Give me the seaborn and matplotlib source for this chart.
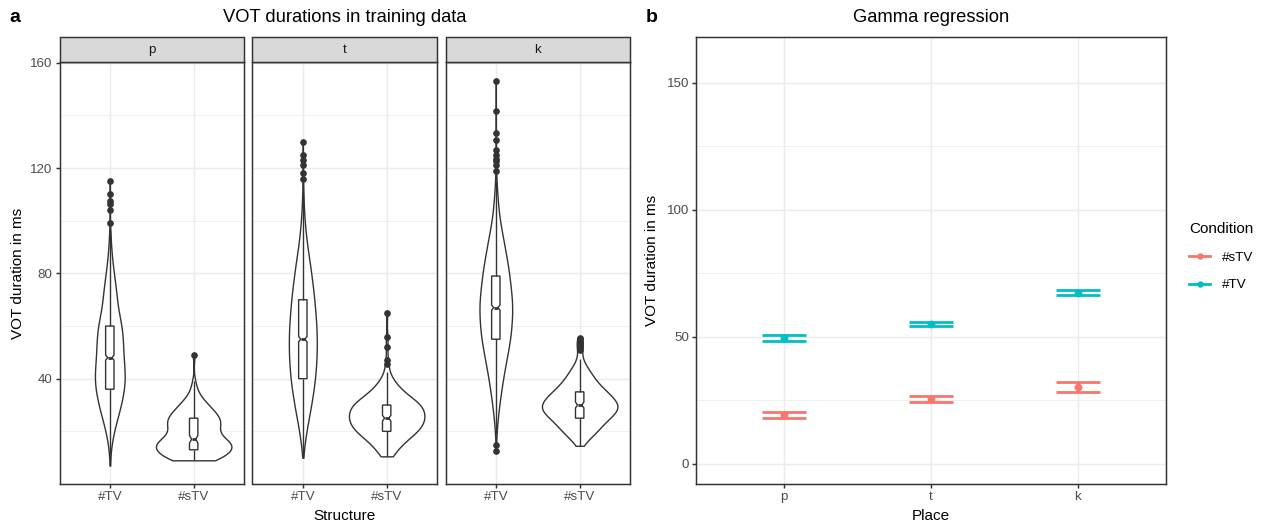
import numpy as np
import pandas as pd
import matplotlib
matplotlib.use("Agg")
import matplotlib.pyplot as plt
from matplotlib.patches import Rectangle
from matplotlib.lines import Line2D
from matplotlib.ticker import FixedLocator
import seaborn as sns

# ---------------------------------------------------------------------------
# Data
# ---------------------------------------------------------------------------
places = ["p", "t", "k"]
structures = ["#TV", "#sTV"]

# Training-data VOT frequency tables: duration (ms) and number of tokens
p_tv_ms = [7, 12, 16, 20, 24, 28, 32, 36, 40, 44, 48, 52, 56, 60, 64, 68, 72, 76, 80, 84,
           88, 92, 96, 99, 104, 106.5, 107.5, 110, 115]
p_tv_n = [2, 6, 18, 36, 60, 87, 108, 126, 135, 129, 120, 117, 114, 105, 84, 66, 60, 48, 36, 24,
          15, 9, 5, 1, 1, 1, 1, 1, 1]

p_stv_ms = [9, 11, 13, 15, 17, 19, 21, 23, 25, 27, 29, 31, 33, 35, 37, 39, 49]
p_stv_n = [13, 15, 18, 20, 15, 10, 11, 13, 13, 10, 8, 6, 3, 2, 1, 1, 1]

t_tv_ms = [10, 15, 20, 25, 30, 35, 40, 45, 50, 55, 60, 65, 70, 75, 80, 85, 90, 95, 100, 105,
           110, 114, 116, 118, 121, 123, 125, 130]
t_tv_n = [2, 22, 45, 77, 108, 135, 158, 171, 180, 180, 176, 162, 149, 130, 108, 86, 58, 40, 22, 14,
          7, 1, 1, 1, 1, 1, 1, 1]

t_stv_ms = [10.5, 12.5, 15, 17.5, 20, 22.5, 25, 27.5, 30, 32.5, 35, 37.5, 40, 42.5,
            45.5, 47, 52, 56, 65]
t_stv_n = [4, 6, 11, 16, 23, 26, 28, 27, 26, 19, 12, 8, 4, 2, 1, 1, 1, 1, 1]

k_tv_ms = [12.5, 15, 19, 23, 27, 31, 35, 39, 43, 47, 51, 55, 59, 63, 67, 71, 75, 79, 83, 87,
           91, 95, 99, 103, 107, 111, 115, 119, 121, 122.5, 123.5, 125, 127, 130.5, 133.5,
           141.5, 153]
k_tv_n = [1, 1, 5, 10, 18, 28, 38, 50, 62, 78, 90, 108, 112, 120, 122, 118, 108, 100, 90, 75,
          62, 48, 32, 22, 15, 10, 5, 1, 1, 1, 1, 1, 1, 1, 1, 1, 1]

k_stv_ms = [14.5, 17.5, 20, 22.5, 25, 27.5, 30, 32.5, 35, 37.5, 40, 42.5, 45, 47.5,
            51, 52, 53, 54, 55, 55.5]
k_stv_n = [2, 8, 12, 16, 20, 27, 28, 24, 19, 14, 10, 8, 4, 2, 1, 1, 1, 1, 1, 1]

# Gamma regression: estimated VOT means with 95% confidence limits
reg_conditions = ["#sTV", "#TV"]
stv_mean = [19.3, 25.5, 30.2]
stv_lo = [18.1, 24.4, 28.3]
stv_hi = [20.5, 26.6, 32.1]
tv_mean = [49.6, 55.1, 67.3]
tv_lo = [48.5, 54.2, 66.3]
tv_hi = [50.7, 55.9, 68.3]

# ---------------------------------------------------------------------------
# Assemble tables
# ---------------------------------------------------------------------------
tables = {
    ("p", "#TV"): (p_tv_ms, p_tv_n), ("p", "#sTV"): (p_stv_ms, p_stv_n),
    ("t", "#TV"): (t_tv_ms, t_tv_n), ("t", "#sTV"): (t_stv_ms, t_stv_n),
    ("k", "#TV"): (k_tv_ms, k_tv_n), ("k", "#sTV"): (k_stv_ms, k_stv_n),
}
frames = []
for (pl, st), (ms, n) in tables.items():
    frames.append(pd.DataFrame({"Place": pl, "Structure": st,
                                "VOT": np.repeat(np.asarray(ms, float), n)}))
train = pd.concat(frames, ignore_index=True)

reg = pd.DataFrame({
    "Place": places * 2,
    "Condition": ["#sTV"] * 3 + ["#TV"] * 3,
    "VOT": stv_mean + tv_mean,
    "lo": stv_lo + tv_lo,
    "hi": stv_hi + tv_hi,
})

# ---------------------------------------------------------------------------
# Style
# ---------------------------------------------------------------------------
plt.rcParams["font.family"] = ["Liberation Sans", "DejaVu Sans"]
DARK = "#333333"
GRID = "#EBEBEB"
TICKTXT = "#4D4D4D"
LW = 1.07
TICK_FS = 9.6
palette = {"#sTV": "#F8766D", "#TV": "#00BFC4"}
violin_width = {"p": {"#TV": 0.355, "#sTV": 0.9},
                "t": {"#TV": 0.333, "#sTV": 0.9},
                "k": {"#TV": 0.39, "#sTV": 0.9}}

W, H = 1266, 526
fig = plt.figure(figsize=(W / 100, H / 100), dpi=100)


def fx(px):
    return px / W


def fy(py):
    return 1 - py / H


def style_axes(ax):
    ax.set_axisbelow(True)
    for s in ax.spines.values():
        s.set_color(DARK)
        s.set_linewidth(LW)
    ax.grid(which="major", color=GRID, linewidth=LW)
    ax.grid(which="minor", color=GRID, linewidth=LW / 2)
    ax.tick_params(which="major", length=2.75, width=LW, color=DARK,
                   labelcolor=TICKTXT, labelsize=TICK_FS, pad=2.2)
    ax.tick_params(which="minor", length=0)
    ax.set_xlabel("")
    ax.set_ylabel("")


# ---------------------------------------------------------------------------
# Panel a: violins with notched boxplots, one facet per place
# ---------------------------------------------------------------------------
panel_left = [59.5, 252.5, 445.5]
panel_w = 184.5
panel_top, panel_bot = 62.5, 484
strip_top = 37
strip_h = (panel_top - strip_top) / (panel_bot - panel_top)

for i, pl in enumerate(places):
    ax = fig.add_axes([fx(panel_left[i]), fy(panel_bot), panel_w / W,
                       (panel_bot - panel_top) / H])
    sub = train[train["Place"] == pl]
    for st in structures:
        sns.violinplot(data=sub[sub["Structure"] == st], x="Structure", y="VOT",
                       order=structures, ax=ax, inner=None, cut=0,
                       density_norm="width", width=violin_width[pl][st],
                       bw_adjust=0.9, color="white", saturation=1,
                       linecolor=DARK, linewidth=1.0)
    sns.boxplot(data=sub, x="Structure", y="VOT", order=structures, ax=ax,
                width=0.1, notch=True, color="white", saturation=1,
                linecolor=DARK, linewidth=1.0, showcaps=False, fliersize=3.8,
                flierprops=dict(marker="o", markerfacecolor=DARK,
                                markeredgecolor=DARK),
                medianprops=dict(linewidth=2.0))
    ax.set_xlim(-0.6, 1.6)
    ax.set_ylim(0, 160.1)
    ax.set_yticks([40, 80, 120, 160])
    ax.yaxis.set_minor_locator(FixedLocator([20, 60, 100, 140]))
    style_axes(ax)
    if i > 0:
        ax.tick_params(axis="y", left=False, labelleft=False)
    ax.add_patch(Rectangle((0, 1), 1, strip_h, transform=ax.transAxes,
                           clip_on=False, facecolor="#D9D9D9", edgecolor=DARK,
                           linewidth=LW, zorder=5))
    ax.text(0.5, 1 + strip_h / 2, pl, transform=ax.transAxes, ha="center",
            va="center", fontsize=TICK_FS, color="#1A1A1A", zorder=6)

facets_mid = (panel_left[0] + panel_left[-1] + panel_w) / 2
fig.text(fx(facets_mid), fy(18), "VOT durations in training data",
         ha="center", va="center", fontsize=13.2)
fig.text(fx(facets_mid), fy(516), "Structure", ha="center", va="center",
         fontsize=11)
fig.text(fx(18), fy((panel_top + panel_bot) / 2), "VOT duration in ms",
         rotation=90, ha="center", va="center", fontsize=11)
fig.text(fx(15), fy(18), "a", ha="center", va="center", fontsize=14,
         fontweight="bold")

# ---------------------------------------------------------------------------
# Panel b: regression estimates with confidence intervals
# ---------------------------------------------------------------------------
rx0, rx1, ry0, ry1 = 696, 1166, 37, 484
ax2 = fig.add_axes([fx(rx0), fy(ry1), (rx1 - rx0) / W, (ry1 - ry0) / H])
for _, row in reg.iterrows():
    xpos = places.index(row["Place"])
    col = palette[row["Condition"]]
    ax2.vlines(xpos, row["lo"], row["hi"], color=col, linewidth=2.0, zorder=2)
    ax2.hlines([row["lo"], row["hi"]], xpos - 0.15, xpos + 0.15, color=col,
               linewidth=2.0, zorder=2)
sns.pointplot(data=reg, x="Place", y="VOT", hue="Condition", order=places,
              hue_order=reg_conditions, palette=palette, errorbar=None,
              dodge=False, markers="o", linestyle="none", markersize=3.6,
              legend=False, ax=ax2)
ax2.set_xlim(-0.6, 2.6)
ax2.set_ylim(-8, 168)
ax2.set_yticks([0, 50, 100, 150])
ax2.yaxis.set_minor_locator(FixedLocator([25, 75, 125]))
style_axes(ax2)

fig.text(fx((rx0 + rx1) / 2), fy(18), "Gamma regression", ha="center",
         va="center", fontsize=13.2)
fig.text(fx((rx0 + rx1) / 2), fy(516), "Place", ha="center", va="center",
         fontsize=11)
fig.text(fx(652), fy((ry0 + ry1) / 2), "VOT duration in ms", rotation=90,
         ha="center", va="center", fontsize=11)
fig.text(fx(652), fy(18), "b", ha="center", va="center", fontsize=14,
         fontweight="bold")

handles = [Line2D([], [], color=palette[c], marker="o", markersize=3.6,
                  linewidth=2.0) for c in reg_conditions]
fig.legend(handles, reg_conditions, title="Condition", loc="upper left",
           bbox_to_anchor=(fx(1189), fy(222)), frameon=False, fontsize=TICK_FS,
           title_fontsize=11, handlelength=1.6, handletextpad=0.9,
           labelspacing=1.15, alignment="left", borderpad=0, borderaxespad=0)

fig.savefig("out.png", dpi=100)
